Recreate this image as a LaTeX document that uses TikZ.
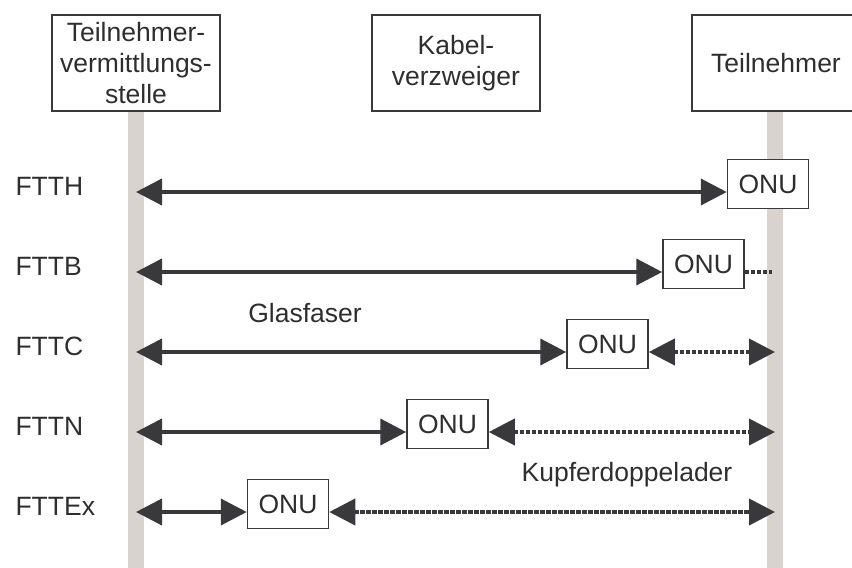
\documentclass[tikz,border=0pt]{standalone}
\usepackage{fontspec}
\setmainfont{Liberation Sans}
\usetikzlibrary{arrows.meta}

\definecolor{darkline}{HTML}{38383D}
\definecolor{lighttrack}{HTML}{D9D2CF}
\definecolor{labeltext}{HTML}{2E2E2E}

\begin{document}
\begin{tikzpicture}[
        x=1pt, y=-1pt,
        font=\fontsize{26.5}{31}\selectfont,
        every node/.style={text=labeltext},
        station/.style={draw=darkline, line width=1.5pt, fill=white, align=center, minimum width=168pt, minimum height=96pt, inner sep=0pt},
        onu/.style={draw=darkline, line width=1.5pt, fill=white, minimum width=81pt, minimum height=49pt, inner sep=0pt},
        % track/.style={fill=lighttrack},
        fiber/.style={draw=darkline, line width=4pt, {Triangle[length=26pt,width=26pt]}-{Triangle[length=26pt,width=26pt]}},
        copper/.style={fiber, dash pattern=on 4.5pt off 1.5pt},
    ]
    \useasboundingbox (0,0) rectangle (852,568);
    \clip (0,0) rectangle (852,568);

    % tracks below the exchange and the subscriber
    \fill[lighttrack] (128,100) rectangle (144,568);
    \fill[lighttrack] (767,100) rectangle (783,568);

    \node[station] (tvst) at (136,63) {Teilnehmer-\\vermittlungs-\\stelle};
    \node[station] (kvz) at (456,63) {Kabel-\\verzweiger};
    \node[station] (tln) at (776,63) {Teilnehmer};

    \node[anchor=base west] (lblH) at (12,195) {FTTH};
    \node[anchor=base west] (lblB) at (12,275) {FTTB};
    \node[anchor=base west] (lblC) at (12,355) {FTTC};
    \node[anchor=base west] (lblN) at (12,435) {FTTN};
    \node[anchor=base west] (lblEx) at (12,515) {FTTEx};

    \coordinate (vstH) at (136,192);
    \coordinate (vstB) at (136,272);
    \coordinate (vstC) at (136,352);
    \coordinate (vstN) at (136,432);
    \coordinate (vstEx) at (136,512);
    \coordinate (tlnB) at (772,272);
    \coordinate (tlnC) at (775,352);
    \coordinate (tlnN) at (775,432);
    \coordinate (tlnEx) at (775,512);

    \node[onu] (onuH) at (768,184) {ONU};
    \node[onu] (onuB) at (703.5,264) {ONU};
    \node[onu] (onuC) at (607.5,344) {ONU};
    \node[onu] (onuN) at (447.5,424) {ONU};
    \node[onu] (onuEx) at (288,504) {ONU};

    % fibre part
    \draw[fiber] (vstH) -- (onuH.west |- vstH);
    \draw[fiber] (vstB) -- (onuB.west |- vstB);
    \draw[fiber] (vstC) -- (onuC.west |- vstC);
    \draw[fiber] (vstN) -- (onuN.west |- vstN);
    \draw[fiber] (vstEx) -- (onuEx.west |- vstEx);

    % copper part
    \draw[darkline, line width=4pt, dash pattern=on 4.5pt off 1.5pt] (onuB.east |- vstB) -- (tlnB);
    \draw[copper] (onuC.east |- vstC) -- (tlnC);
    \draw[copper] (onuN.east |- vstN) -- (tlnN);
    \draw[copper] (onuEx.east |- vstEx) -- (tlnEx);

    \node[anchor=base] (glas) at (305,322) {Glasfaser};
    \node[anchor=base] (kupfer) at (627,481) {Kupferdoppelader};
\end{tikzpicture}
\end{document}
